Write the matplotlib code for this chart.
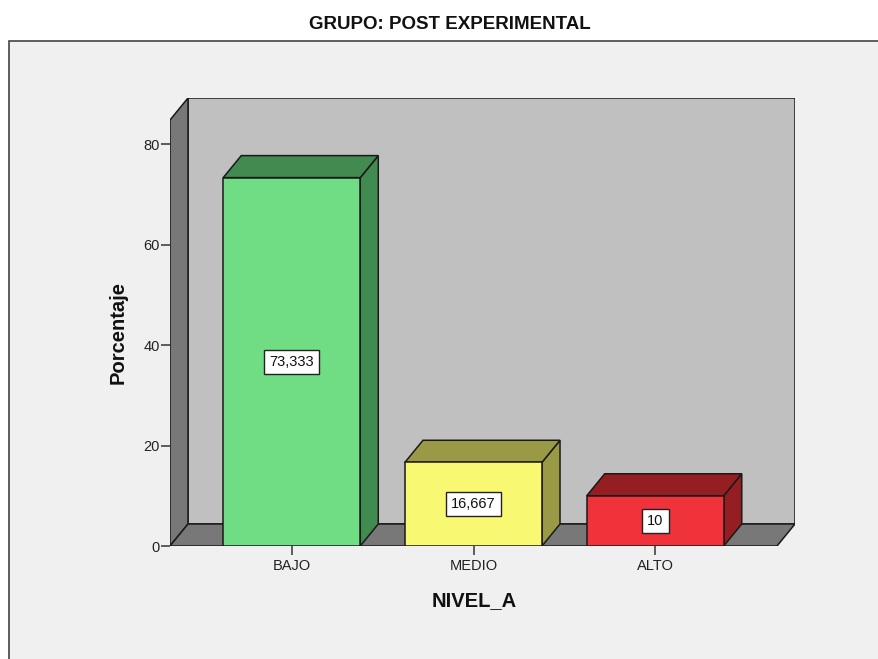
import matplotlib
matplotlib.use("Agg")
import matplotlib.pyplot as plt
from matplotlib import font_manager
from matplotlib.patches import Polygon, Rectangle

# ---- data ----
categories = ["BAJO", "MEDIO", "ALTO"]
values = [73.333, 16.667, 10.0]
value_labels = ["73,333", "16,667", "10"]
front_colors = ["#70DD84", "#F8F872", "#F0323A"]
dark_colors = ["#418A50", "#9A9A46", "#941E22"]
yticks = [0, 20, 40, 60, 80]
title = "GRUPO: POST EXPERIMENTAL"
xlabel = "NIVEL_A"
ylabel = "Porcentaje"

W, H = 879, 659
fig = plt.figure(figsize=(W / 100, H / 100), dpi=100)
fig.patch.set_facecolor("white")
plt.rcParams["font.family"] = ["Liberation Sans", "DejaVu Sans"]

installed = {f.name for f in font_manager.fontManager.ttflist}
if "Liberation Sans Narrow" in installed:
    title_family, title_size = ["Liberation Sans Narrow", "DejaVu Sans"], 16
else:
    title_family, title_size = ["Liberation Sans", "DejaVu Sans"], 13.5

# outer light frame
frame = Rectangle((9 / W, -0.1), 1.2, (H - 41) / H + 0.1,
                  transform=fig.transFigure, facecolor="#F0F0F0",
                  edgecolor="#444444", lw=1.2, zorder=-5)
fig.patches.append(frame)

# geometry (data units)
x0, x1 = -0.67, 2.67
dx, dy = 0.099, 4.38
top = 84.8
bw = 0.754

left_px, right_px = 170, 795
bottom_px, top_px = 546, 98
ax = fig.add_axes([left_px / W, (H - bottom_px) / H,
                   (right_px - left_px) / W, (bottom_px - top_px) / H])
ax.set_zorder(1)
ax.set_xlim(x0, x1 + dx)
ax.set_ylim(0, top + dy)
ax.patch.set_alpha(0)
for s in ax.spines.values():
    s.set_visible(False)

ec = "#1A1A1A"
lw = 1.1
# back wall
ax.add_patch(Polygon([(x0 + dx, dy), (x1 + dx, dy), (x1 + dx, top + dy), (x0 + dx, top + dy)],
                     closed=True, facecolor="#C0C0C0", edgecolor=ec, lw=lw, zorder=1))
# left wall
ax.add_patch(Polygon([(x0, 0), (x0, top), (x0 + dx, top + dy), (x0 + dx, dy)],
                     closed=True, facecolor="#787878", edgecolor=ec, lw=lw, zorder=2))
# floor
ax.add_patch(Polygon([(x0, 0), (x1, 0), (x1 + dx, dy), (x0 + dx, dy)],
                     closed=True, facecolor="#787878", edgecolor=ec, lw=lw, zorder=2))

for i, (v, fc, dc, lab) in enumerate(zip(values, front_colors, dark_colors, value_labels)):
    l, r = i - bw / 2, i + bw / 2
    ax.add_patch(Polygon([(r, 0), (r + dx, dy), (r + dx, v + dy), (r, v)],
                         closed=True, facecolor=dc, edgecolor=ec, lw=lw, zorder=3))
    ax.add_patch(Polygon([(l, v), (r, v), (r + dx, v + dy), (l + dx, v + dy)],
                         closed=True, facecolor=dc, edgecolor=ec, lw=lw, zorder=3))
    ax.add_patch(Polygon([(l, 0), (r, 0), (r, v), (l, v)],
                         closed=True, facecolor=fc, edgecolor=ec, lw=lw, zorder=4))
    ax.text(i, v / 2, lab, ha="center", va="center", fontsize=10.5, color="#111111",
            zorder=6, bbox=dict(boxstyle="square,pad=0.35", facecolor="white",
                                edgecolor="#222222", lw=1.0))

ax.set_xticks(range(len(categories)))
ax.set_xticklabels(categories)
ax.set_yticks(yticks)
ax.set_yticklabels([str(t) for t in yticks])
ax.tick_params(axis="both", direction="out", length=6.5, width=1.1, color="#333333",
               labelsize=10.5, labelcolor="#222222")
ax.tick_params(axis="y", pad=1)
ax.tick_params(axis="x", pad=3)

fig.text(450 / W, 1 - 24.5 / H, title, ha="center", va="center", fontsize=title_size,
         fontweight="bold", color="#111111", family=title_family)
fig.text(474 / W, 1 - 601 / H, xlabel, ha="center", va="center", fontsize=14.5,
         fontweight="bold", color="#111111")
fig.text(118 / W, 1 - 333 / H, ylabel, ha="center", va="center", fontsize=14.5,
         fontweight="bold", color="#111111", rotation=90)

fig.savefig("out.png", dpi=100)
